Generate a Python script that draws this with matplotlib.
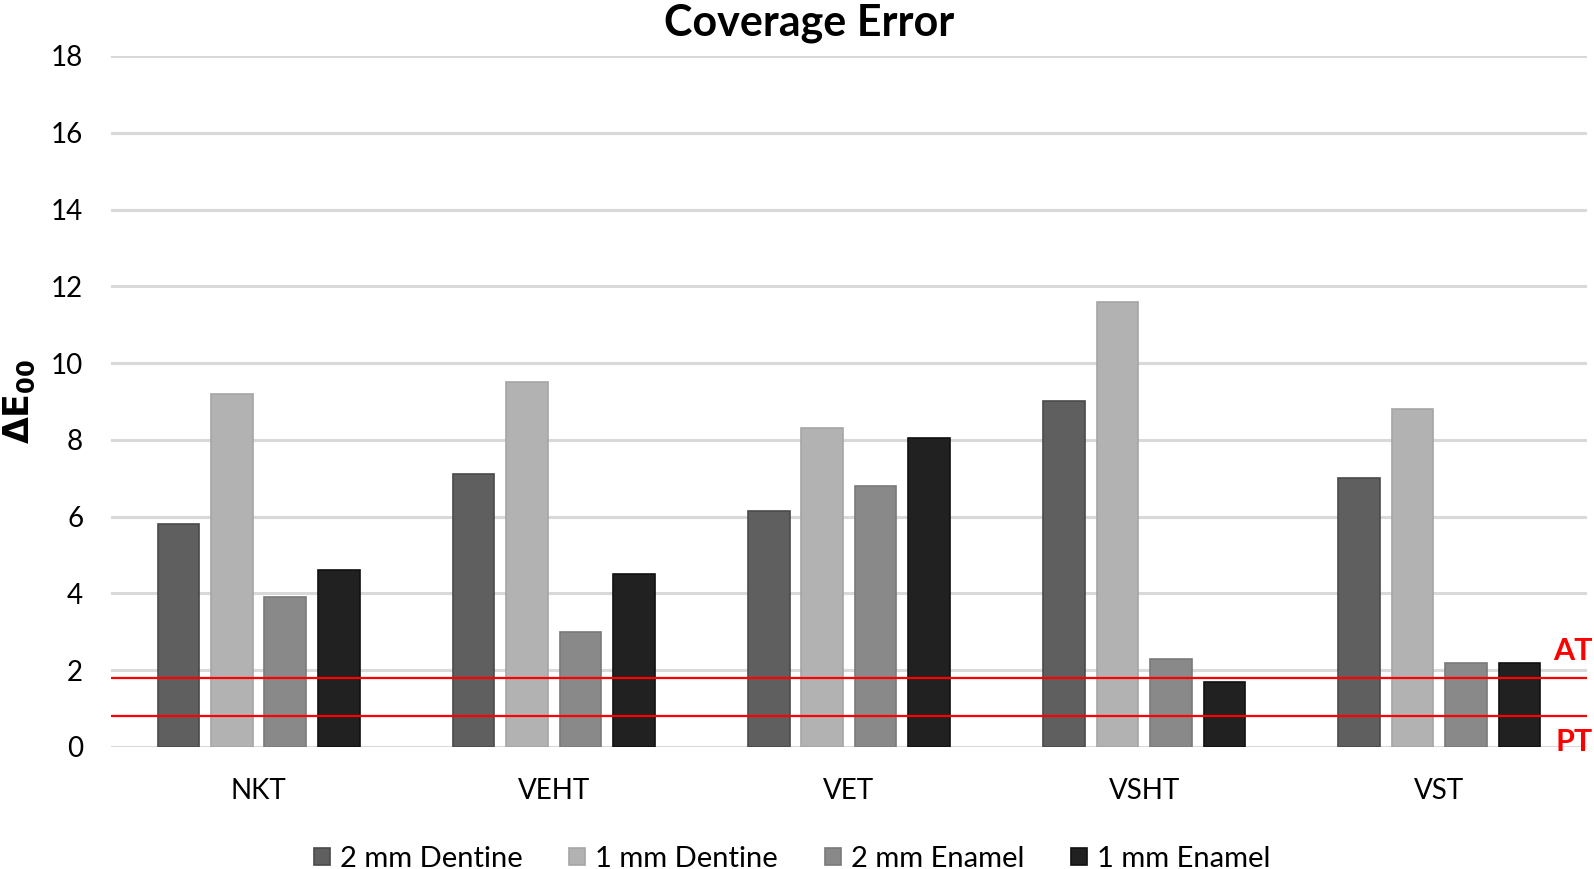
import matplotlib
matplotlib.use('Agg')
import matplotlib.pyplot as plt
import matplotlib.transforms as mtransforms
import numpy as np

plt.rcParams['font.family'] = ['Lato', 'DejaVu Sans']

categories = ['NKT', 'VEHT', 'VET', 'VSHT', 'VST']
series_names = ['2 mm Dentine', '1 mm Dentine', '2 mm Enamel', '1 mm Enamel']
dentine_2mm = [5.8, 7.1, 6.15, 9.0, 7.0]
dentine_1mm = [9.2, 9.5, 8.3, 11.6, 8.8]
enamel_2mm = [3.9, 3.0, 6.8, 2.3, 2.2]
enamel_1mm = [4.6, 4.5, 8.05, 1.7, 2.2]
thresholds = {'AT': 1.8, 'PT': 0.8}

colors = ['#5f5f5f', '#b2b2b2', '#898989', '#212121']
edges = ['#4a4a4a', '#a5a5a5', '#7a7a7a', '#111111']

fig = plt.figure(figsize=(15.94, 8.69), dpi=100)
ax = fig.add_axes([0.0696, 0.1404, 0.926, 0.7952])

x = np.arange(len(categories))
width = 0.141
stride = 0.181
all_series = [dentine_2mm, dentine_1mm, enamel_2mm, enamel_1mm]
for i, vals in enumerate(all_series):
    offs = (i - 1.5) * stride
    ax.bar(x + offs, vals, width, color=colors[i], edgecolor=edges[i],
           linewidth=1.2, label=series_names[i], zorder=3)

ax.set_xlim(-0.5, len(categories) - 0.5)
ax.set_ylim(0, 18)
ax.set_yticks(range(0, 19, 2))
ax.set_xticks(x)
ax.set_xticklabels(categories)
ax.tick_params(axis='both', length=0, labelsize=20)
ax.tick_params(axis='y', pad=20)
ax.tick_params(axis='x', pad=22)
ax.yaxis.grid(True, color='#d9d9d9', linewidth=2.2, zorder=0)
ax.set_axisbelow(True)
for s in ax.spines.values():
    s.set_visible(False)

# threshold lines
trans = mtransforms.blended_transform_factory(ax.transAxes, ax.transData)
for name, val in thresholds.items():
    ax.axhline(val, color='#ff0000', linewidth=1.6, zorder=4)
ax.text(1.004, 2.49, 'AT', transform=trans, ha='right', va='center',
        color='#ff0000', fontsize=22, fontweight='bold')
ax.text(1.004, 0.13, 'PT', transform=trans, ha='right', va='center',
        color='#ff0000', fontsize=22, fontweight='bold')

ax.set_ylabel(r'$\mathbf{\Delta E_{00}}$', fontsize=25)
ax.yaxis.set_label_coords(-0.05, 0.5)

fig.text(0.5077, 0.996, 'Coverage Error', fontsize=31, fontweight='bold',
         ha='center', va='top')

ax.legend(loc='center', bbox_to_anchor=(0.4615, -0.162), ncol=4, frameon=False,
          fontsize=21, handlelength=0.55, handleheight=0.55, handletextpad=0.35,
          columnspacing=1.6)

fig.savefig('out.png', dpi=100, facecolor='white')
